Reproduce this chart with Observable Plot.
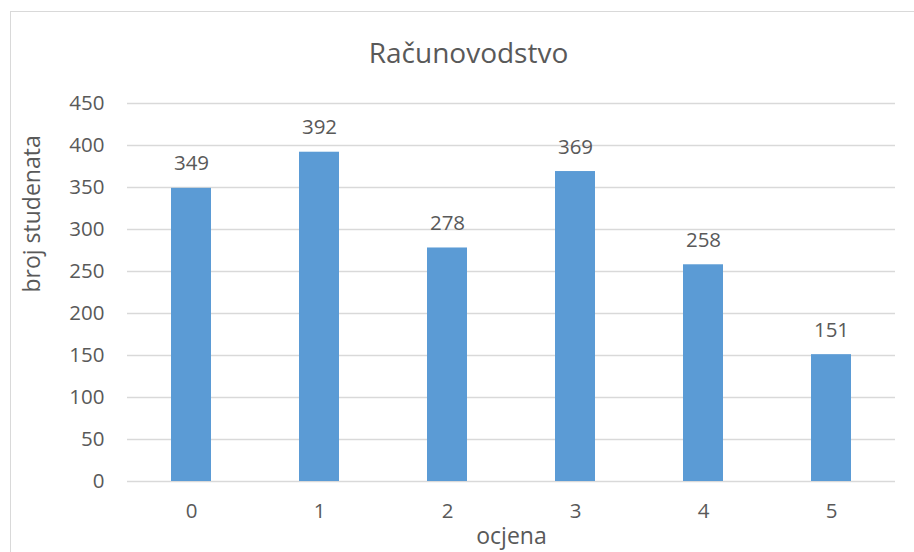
<!DOCTYPE html>
<html><head><meta charset="utf-8">
<script src="https://cdn.jsdelivr.net/npm/d3@7"></script>
<script src="https://cdn.jsdelivr.net/npm/@observablehq/plot@0.6"></script>
<style>
body{margin:0;background:#fff;}
#wrap{position:relative;width:914px;height:552px;overflow:hidden;}
#border{position:absolute;left:10px;top:11px;width:930px;height:560px;border:1.5px solid #d9d9d9;box-sizing:border-box;}
</style></head>
<body><div id="wrap"><div id="border"></div></div>
<script>
const title = "Računovodstvo";
const grades = ["0","1","2","3","4","5"];
const counts = [349, 392, 278, 369, 258, 151];
const yTicks = [0,50,100,150,200,250,300,350,400,450];
const xLabel = "ocjena";
const yLabel = "broj studenata";

const data = grades.map((g,i)=>({grade:g, count:counts[i]}));
const txt = "#595959";
const font = "'Open Sans', sans-serif";

const chart = Plot.plot({
  width: 914, height: 552,
  marginLeft: 127, marginRight: 19, marginTop: 103, marginBottom: 71,
  style: {fontFamily: font, fontSize: "20.5px", color: txt, background: "transparent", overflow: "visible"},
  x: {domain: grades, paddingInner: 0.6875, paddingOuter: 0.34375, label: null},
  y: {domain: [0,450], ticks: yTicks, label: null},
  marks: [
    Plot.gridY(yTicks, {stroke: "#d9d9d9", strokeOpacity: 1, strokeWidth: 1.6}),
    Plot.barY(data, {x: "grade", y: "count", fill: "#5b9bd5"}),
    Plot.text(data, {x: "grade", y: "count", text: d => String(d.count), lineAnchor: "bottom", dy: -18, fill: txt, fontSize: 20.5}),
    Plot.axisY(yTicks, {tickSize: 0, tickPadding: 23, fontSize: 20.5, fill: txt, label: null}),
    Plot.axisX({tickSize: 0, tickPadding: 22, fontSize: 20.5, fill: txt, label: null}),
    Plot.text([title], {frameAnchor: "top", dx: -43, dy: -49, fontSize: 28, fill: txt, lineAnchor: "middle"}),
    Plot.text([xLabel], {frameAnchor: "bottom", dy: 55, fontSize: 23, fill: txt, lineAnchor: "middle"}),
    Plot.text([yLabel], {frameAnchor: "left", dx: -95, rotate: -90, fontSize: 23, fill: txt, lineAnchor: "middle"})
  ]
});
chart.style.position = "absolute";
chart.style.left = "0";
chart.style.top = "0";
document.getElementById("wrap").appendChild(chart);
</script></body></html>
